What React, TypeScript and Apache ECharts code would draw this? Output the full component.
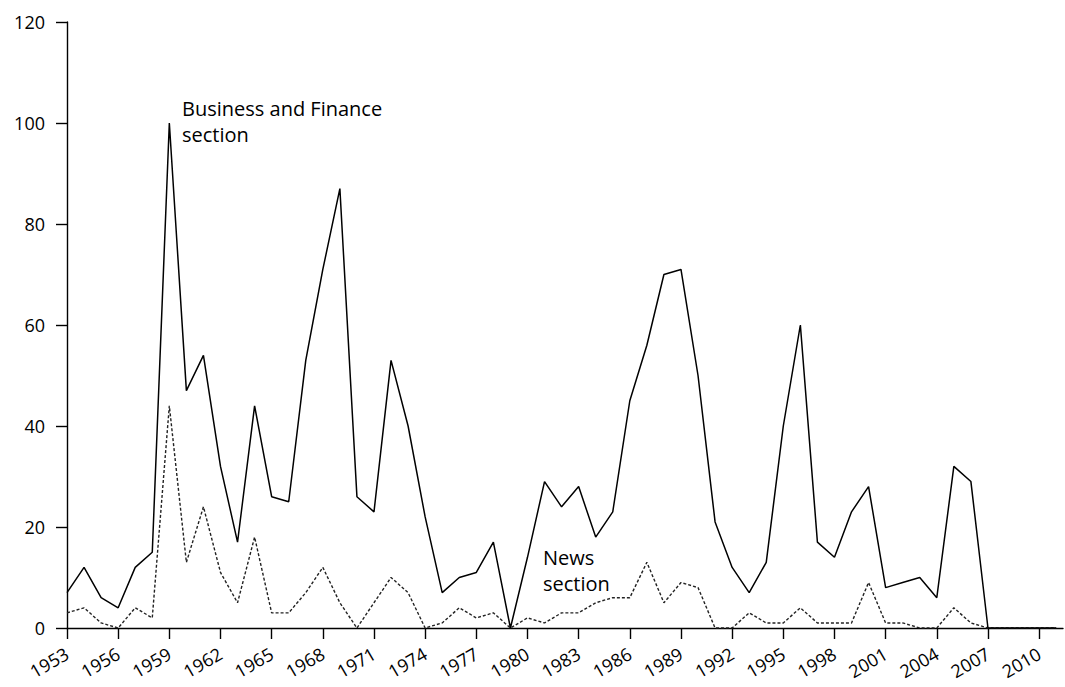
import React, { useEffect, useRef } from "react";
import * as echarts from "echarts";

const years: number[] = [];
for (let y = 1953; y <= 2011; y++) years.push(y);

const businessValues = [
  7, 12, 6, 4, 12, 15, 100, 47, 54, 32,
  17, 44, 26, 25, 53, 71, 87, 26, 23, 53,
  40, 22, 7, 10, 11, 17, 0, 14, 29, 24,
  28, 18, 23, 45, 56, 70, 71, 50, 21, 12,
  7, 13, 40, 60, 17, 14, 23, 28, 8, 9,
  10, 6, 32, 29, 0, 0, 0, 0, 0,
];

const newsValues = [
  3, 4, 1, 0, 4, 2, 44, 13, 24, 11,
  5, 18, 3, 3, 7, 12, 5, 0, 5, 10,
  7, 0, 1, 4, 2, 3, 0, 2, 1, 3,
  3, 5, 6, 6, 13, 5, 9, 8, 0, 0,
  3, 1, 1, 4, 1, 1, 1, 9, 1, 1,
  0, 0, 4, 1, 0, 0, 0, 0, 0,
];

const seriesNames = ["Business and Finance section", "News section"];

export default function App() {
  const ref = useRef<HTMLDivElement>(null);
  useEffect(() => {
    if (!ref.current) return;
    const chart = echarts.init(ref.current, null, { renderer: "svg" });
    const font = "'Open Sans', 'Noto Sans', sans-serif";
    chart.setOption({
      animation: false,
      backgroundColor: "#ffffff",
      grid: { left: 67, top: 22, right: 2, bottom: 59, containLabel: false },
      xAxis: {
        type: "value",
        min: 1953,
        max: 2011.4,
        interval: 3,
        axisLine: { show: true, lineStyle: { color: "#000", width: 1.4 } },
        axisTick: { show: true, length: 11, lineStyle: { color: "#000", width: 1.4 } },
        splitLine: { show: false },
        axisLabel: {
          rotate: 30,
          margin: 24,
          color: "#000",
          fontSize: 18,
          fontFamily: font,
          showMaxLabel: false,
          formatter: (v: number) => (Number.isInteger(v) ? String(v) : ""),
        },
      },
      yAxis: {
        type: "value",
        min: 0,
        max: 120,
        interval: 20,
        axisLine: { show: true, lineStyle: { color: "#000", width: 1.4 } },
        axisTick: { show: true, length: 11, lineStyle: { color: "#000", width: 1.4 } },
        splitLine: { show: false },
        axisLabel: { margin: 22, color: "#000", fontSize: 18, fontFamily: font },
      },
      series: [
        {
          name: seriesNames[0],
          type: "line",
          data: years.map((y, i) => [y, businessValues[i]]),
          showSymbol: false,
          lineStyle: { color: "#000", width: 1.5 },
          z: 3,
        },
        {
          name: seriesNames[1],
          type: "line",
          data: years.map((y, i) => [y, newsValues[i]]),
          showSymbol: false,
          lineStyle: { color: "#222", width: 1.4, type: [3, 2] },
          z: 2,
        },
      ],
      graphic: [
        {
          type: "text",
          left: 182,
          top: 95,
          style: {
            text: "Business and Finance\nsection",
            fontSize: 20,
            lineHeight: 26,
            fontFamily: font,
            fill: "#000",
          },
        },
        {
          type: "text",
          left: 543,
          top: 544,
          style: {
            text: "News\nsection",
            fontSize: 20,
            lineHeight: 26,
            fontFamily: font,
            fill: "#000",
          },
        },
      ],
    });
    return () => chart.dispose();
  }, []);
  return (
    <div
      ref={ref}
      style={{ position: "fixed", left: 0, top: 0, width: 1065, height: 687, background: "#fff" }}
    />
  );
}
